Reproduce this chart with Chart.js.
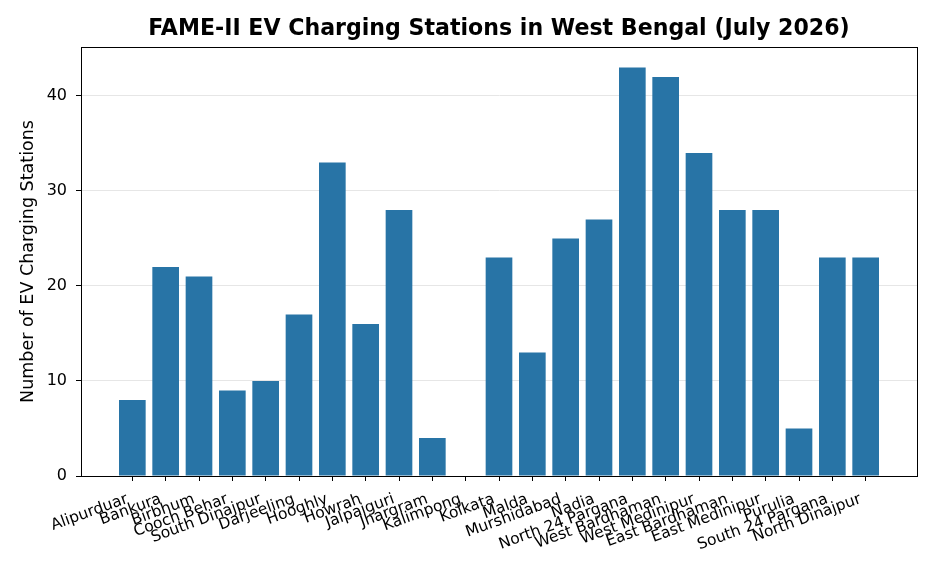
<!DOCTYPE html>
<html>
<head>
    <title>FAME-II EV Charging Stations in West Bengal</title>
    <script src="https://cdn.jsdelivr.net/npm/chart.js"></script>
    <style>
        body { margin: 0; background: #fff; }
    </style>
</head>
<body>
    <canvas id="evChart" width="936" height="572"></canvas>
    <script>
        const districts = ['Alipurduar', 'Bankura', 'Birbhum', 'Cooch Behar', 'South Dinajpur', 'Darjeeling',
            'Hooghly', 'Howrah', 'Jalpaiguri', 'Jhargram', 'Kalimpong', 'Kolkata', 'Malda', 'Murshidabad',
            'Nadia', 'North 24 Pargana', 'West Bardhaman', 'West Medinipur', 'East Bardhaman',
            'East Medinipur', 'Purulia', 'South 24 Pargana', 'North Dinajpur'];
        const stations = [8, 22, 21, 9, 10, 17, 33, 16, 28, 4, 0, 23, 13, 25, 27, 43, 42, 34, 28, 28, 5, 23, 23];
        const yTicks = [0, 10, 20, 30, 40];

        const font = 'DejaVu Sans';

        // box round the plot area, like matplotlib spines
        const frame = {
            id: 'frame',
            afterDatasetsDraw(chart) {
                const a = chart.chartArea;
                const ctx = chart.ctx;
                ctx.save();
                ctx.strokeStyle = '#000';
                ctx.lineWidth = 1;
                ctx.strokeRect(Math.round(a.left) + 0.5, Math.round(a.top) + 0.5,
                    Math.round(a.right - a.left), Math.round(a.bottom - a.top));
                ctx.restore();
            }
        };

        new Chart(document.getElementById('evChart').getContext('2d'), {
            type: 'bar',
            data: {
                datasets: [{
                    data: stations.map((v, i) => ({ x: i, y: v })),
                    backgroundColor: '#2874a6',
                    borderWidth: 0,
                    inflateAmount: 0,
                    categoryPercentage: 1,
                    barPercentage: 0.8
                }]
            },
            options: {
                responsive: false,
                animation: false,
                layout: { padding: { left: 0, right: 19, top: 0, bottom: 0 } },
                plugins: {
                    legend: { display: false },
                    tooltip: { enabled: false },
                    title: {
                        display: true,
                        fullSize: false,
                        text: 'FAME-II EV Charging Stations in West Bengal (July 2026)',
                        color: '#000',
                        font: { family: font, size: 22.1, weight: 'bold', lineHeight: 1.2 },
                        padding: { top: 16, bottom: 4.5 }
                    }
                },
                scales: {
                    x: {
                        type: 'linear',
                        offset: false,
                        min: -1.54,
                        max: 23.54,
                        afterFit(scale) { scale.height = 96; },
                        afterBuildTicks(scale) {
                            scale.ticks = districts.map((d, i) => ({ value: i }));
                        },
                        border: { display: true, color: '#000', width: 1 },
                        grid: { offset: false, drawOnChartArea: false, color: '#000', tickLength: 5 },
                        ticks: {
                            autoSkip: false,
                            minRotation: 20,
                            maxRotation: 20,
                            padding: 9,
                            labelOffset: -5,
                            color: '#000',
                            font: { family: font, size: 15.5 },
                            callback: (v) => districts[v]
                        }
                    },
                    y: {
                        min: 0,
                        max: 45.15,
                        afterFit(scale) { scale.width = 81; },
                        afterBuildTicks(scale) {
                            scale.ticks = yTicks.map(v => ({ value: v }));
                        },
                        border: { display: true, color: '#000', width: 1 },
                        grid: { color: '#e6e6e6', tickColor: '#000', tickLength: 5 },
                        ticks: {
                            padding: 9,
                            color: '#000',
                            font: { family: font, size: 16 }
                        },
                        title: {
                            display: true,
                            text: 'Number of EV Charging Stations',
                            color: '#000',
                            font: { family: font, size: 17.5 },
                            padding: { top: 18, bottom: 0 }
                        }
                    }
                }
            },
            plugins: [frame]
        });
    </script>
</body>
</html>
